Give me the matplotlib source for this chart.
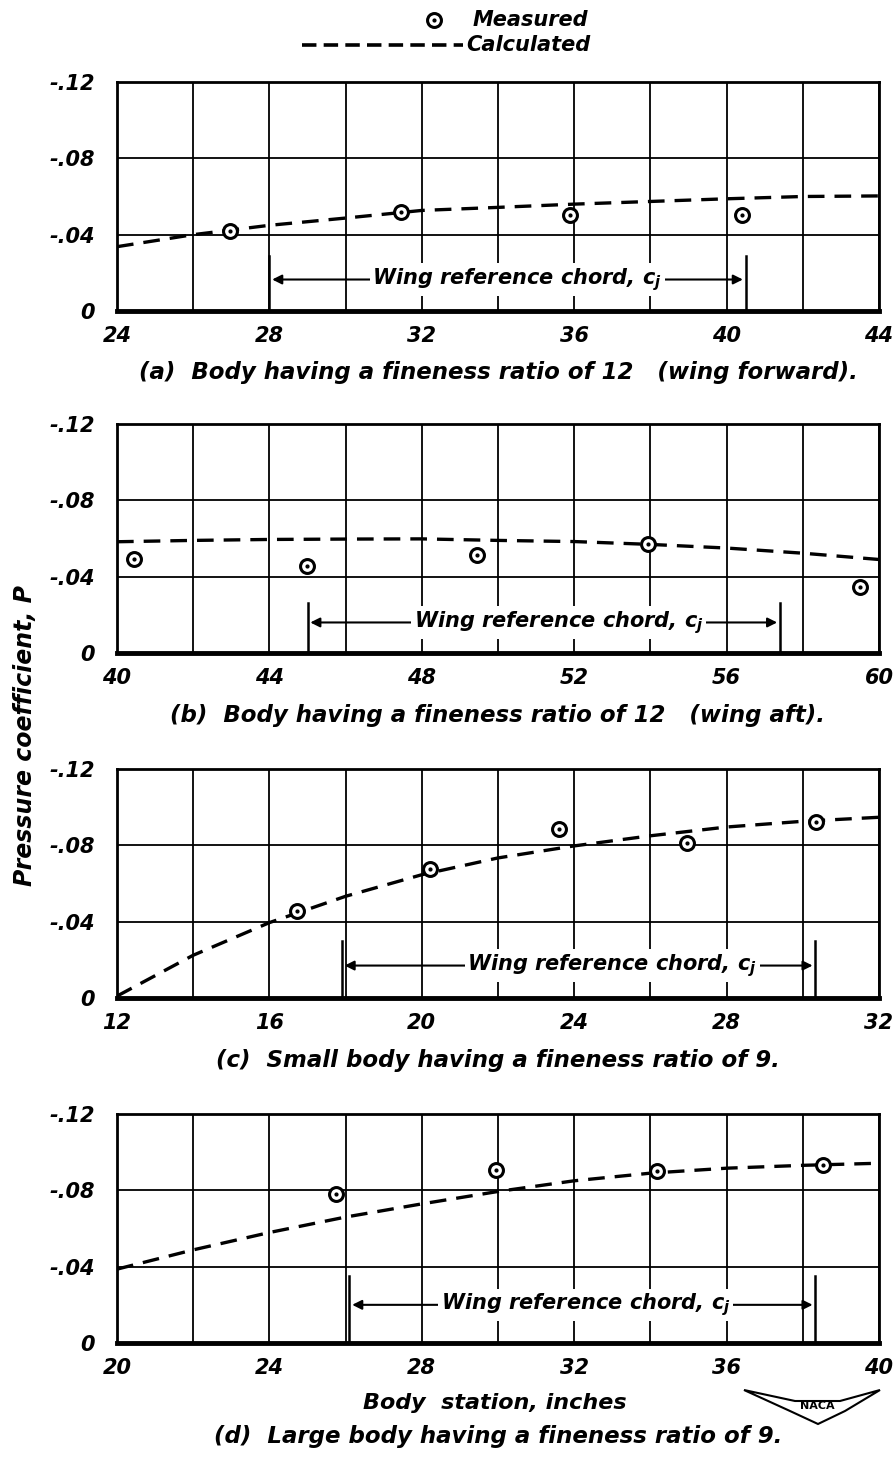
import numpy as np
import matplotlib
matplotlib.use('Agg')
import matplotlib.pyplot as plt
from matplotlib.lines import Line2D
from matplotlib.patches import Polygon

plt.rcParams['font.family'] = 'DejaVu Sans'
plt.rcParams['font.weight'] = 'bold'
plt.rcParams['font.style'] = 'italic'
plt.rcParams['mathtext.fontset'] = 'custom'
plt.rcParams['mathtext.it'] = 'DejaVu Sans:italic:bold'
plt.rcParams['mathtext.rm'] = 'DejaVu Sans:bold'

# (a) fineness ratio 12, wing forward
meas_x_a = [26.96, 31.45, 35.9, 40.4]
meas_p_a = [-0.0417, -0.0517, -0.0504, -0.0504]
calc_x_a = [24, 26, 28, 30, 32, 34, 36, 38, 40, 42, 44]
calc_p_a = [-0.0337, -0.040, -0.0449, -0.0487, -0.0527, -0.0543, -0.056, -0.0574, -0.0588, -0.060, -0.0603]
chord_a = [28.0, 40.5]

# (b) fineness ratio 12, wing aft
meas_x_b = [40.45, 44.99, 49.45, 53.95, 59.5]
meas_p_b = [-0.049, -0.0456, -0.0511, -0.0572, -0.0348]
calc_x_b = [40, 42, 44, 46, 48, 50, 52, 54, 56, 58, 60]
calc_p_b = [-0.0583, -0.059, -0.0595, -0.0597, -0.0598, -0.059, -0.0584, -0.0569, -0.055, -0.0523, -0.049]
chord_b = [45.0, 57.4]

# (c) small body, fineness ratio 9
meas_x_c = [16.73, 20.21, 23.61, 26.97, 30.34]
meas_p_c = [-0.0454, -0.0678, -0.0887, -0.0812, -0.0922]
calc_x_c = [12, 14, 16, 18, 20, 22, 24, 26, 28, 30, 32]
calc_p_c = [-0.001, -0.0224, -0.0395, -0.0533, -0.0646, -0.0734, -0.0797, -0.085, -0.0896, -0.0926, -0.0947]
chord_c = [17.9, 30.33]

# (d) large body, fineness ratio 9
meas_x_d = [25.76, 29.95, 34.17, 38.52]
meas_p_d = [-0.0781, -0.0904, -0.0902, -0.0933]
calc_x_d = [20, 22, 24, 26, 28, 30, 32, 34, 36, 38, 40]
calc_p_d = [-0.0387, -0.0488, -0.0579, -0.066, -0.0729, -0.0794, -0.085, -0.089, -0.0916, -0.0931, -0.0942]
chord_d = [26.1, 38.33]

x_starts = [24, 40, 12, 20]
captions = [
    '(a)  Body having a fineness ratio of 12   (wing forward).',
    '(b)  Body having a fineness ratio of 12   (wing aft).',
    '(c)  Small body having a fineness ratio of 9.',
    '(d)  Large body having a fineness ratio of 9.',
]
y_ticks = [0, -0.04, -0.08, -0.12]
y_ticklabels = ['0', '-.04', '-.08', '-.12']
chord_label = 'Wing reference chord, $c_j$'

panels = [
    (meas_x_a, meas_p_a, calc_x_a, calc_p_a, chord_a, 34.5, -0.0165, -0.029),
    (meas_x_b, meas_p_b, calc_x_b, calc_p_b, chord_b, 51.6, -0.016, -0.026),
    (meas_x_c, meas_p_c, calc_x_c, calc_p_c, chord_c, 25.0, -0.017, -0.030),
    (meas_x_d, meas_p_d, calc_x_d, calc_p_d, chord_d, 32.3, -0.020, -0.035),
]

W, H = 895, 1460
fig = plt.figure(figsize=(W / 100, H / 100), dpi=100)

# axes boxes in pixels: left, top, right, bottom
boxes = [(117, 82, 879, 311), (117, 424, 879, 653), (117, 769, 879, 998), (117, 1114, 879, 1343)]

for i, (mx, mp, cx, cp, chord, tx, ty, ctop) in enumerate(panels):
    l, t, r, b = boxes[i]
    ax = fig.add_axes([l / W, 1 - b / H, (r - l) / W, (b - t) / H])
    x0 = x_starts[i]
    ax.set_xlim(x0, x0 + 20)
    ax.set_ylim(0, -0.12)
    ax.set_xticks(np.arange(x0, x0 + 21, 4))
    ax.set_xticks(np.arange(x0, x0 + 21, 2), minor=True)
    ax.set_yticks(y_ticks)
    ax.set_yticklabels(y_ticklabels)
    ax.tick_params(which='both', length=0, labelsize=15)
    ax.tick_params(axis='y', pad=16)
    ax.tick_params(axis='x', pad=11)
    ax.grid(True, which='both', color='black', lw=1.3)
    for s in ax.spines.values():
        s.set_linewidth(2)
    ax.spines['bottom'].set_linewidth(3.5)

    ax.plot(cx, cp, color='black', lw=2.4, dashes=(5, 3), zorder=3)
    ax.plot(mx, mp, ls='none', marker='o', ms=10, mfc='white', mec='black', mew=2.2, zorder=4)
    ax.plot(mx, mp, ls='none', marker='o', ms=2, color='black', zorder=5)

    # wing reference chord
    for xc in chord:
        ax.plot([xc, xc], [0, ctop], color='black', lw=1.8, zorder=3)
    ax.annotate('', xy=(chord[0], ty), xytext=(tx, ty),
                arrowprops=dict(arrowstyle='-|>', color='black', lw=1.5, mutation_scale=14), zorder=3)
    ax.annotate('', xy=(chord[1], ty), xytext=(tx, ty),
                arrowprops=dict(arrowstyle='-|>', color='black', lw=1.5, mutation_scale=14), zorder=3)
    ax.text(tx, ty, chord_label, ha='center', va='center', fontsize=15, zorder=6,
            bbox=dict(facecolor='white', edgecolor='none', pad=2))

    cap_y = b + 62 if i < 3 else 1437
    fig.text(498 / W, 1 - cap_y / H, captions[i], ha='center', va='center', fontsize=16.5)

# legend
fig.add_artist(Line2D([434 / W], [1 - 20 / H], marker='o', ms=10, mfc='white', mec='black', mew=2.2,
                      transform=fig.transFigure))
fig.add_artist(Line2D([434 / W], [1 - 20 / H], marker='o', ms=2, color='black',
                      transform=fig.transFigure))
fig.text(473 / W, 1 - 20 / H, 'Measured', ha='left', va='center', fontsize=15)
fig.add_artist(Line2D([302 / W, 463 / W], [1 - 45 / H, 1 - 45 / H], color='black', lw=2.6,
                      dashes=(4, 2), transform=fig.transFigure))
fig.text(466 / W, 1 - 45 / H, 'Calculated', ha='left', va='center', fontsize=15)

fig.text(25 / W, 1 - 735 / H, 'Pressure coefficient, P', rotation=90, ha='center', va='center', fontsize=17)
fig.text(495 / W, 1 - 1403 / H, 'Body  station, inches', ha='center', va='center', fontsize=16)

# NACA emblem
wing = [(744, 1390), (795, 1401), (840, 1401), (880, 1390), (845, 1411), (818, 1424), (790, 1411)]
fig.add_artist(Polygon([(x / W, 1 - y / H) for x, y in wing], closed=True, facecolor='white',
                       edgecolor='black', lw=1.5, transform=fig.transFigure))
fig.text(817 / W, 1 - 1406 / H, 'NACA', ha='center', va='center', fontsize=8, style='normal')

fig.savefig('out.png', dpi=100)
